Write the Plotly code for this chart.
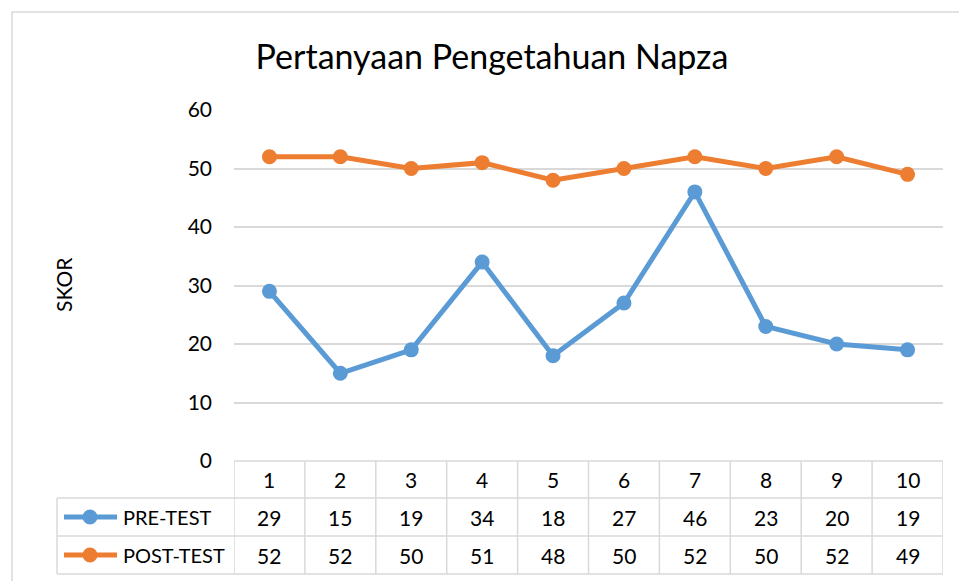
import plotly.graph_objects as go

categories = [1, 2, 3, 4, 5, 6, 7, 8, 9, 10]
pre_test = [29, 15, 19, 34, 18, 27, 46, 23, 20, 19]
post_test = [52, 52, 50, 51, 48, 50, 52, 50, 52, 49]
series_names = ["PRE-TEST", "POST-TEST"]
title_text = "Pertanyaan Pengetahuan Napza"
y_title = "SKOR"
y_ticks = [0, 10, 20, 30, 40, 50, 60]

BLUE = "#5B9BD5"
ORANGE = "#ED7D31"
GRID = "#d9d9d9"
FONT = "Lato"

W, H = 959, 581
L, R, T, B = 234, 16, 110, 120
pw = W - L - R
ph = H - T - B


def px_x(p):
    return (p - L) / pw


def px_y(p):
    return (H - B - p) / ph


fig = go.Figure()
for name, vals, col in [(series_names[0], pre_test, BLUE), (series_names[1], post_test, ORANGE)]:
    fig.add_trace(go.Scatter(
        x=categories, y=vals, name=name, mode="lines+markers",
        line=dict(color=col, width=5),
        marker=dict(color=col, size=15),
        cliponaxis=False,
    ))

shapes = []
line_style = dict(color=GRID, width=1.5)
# outer chart border
shapes.append(dict(type="rect", xref="paper", yref="paper",
                   x0=px_x(12), x1=px_x(990), y0=px_y(12), y1=px_y(620),
                   line=dict(color=GRID, width=1.5), layer="below"))
# table rows
row_lines = [461, 498, 536, 574]
shapes.append(dict(type="line", xref="paper", yref="paper",
                   x0=0, x1=1, y0=px_y(461), y1=px_y(461), line=line_style))
for ry in row_lines[1:]:
    shapes.append(dict(type="line", xref="paper", yref="paper",
                       x0=px_x(57), x1=1, y0=px_y(ry), y1=px_y(ry), line=line_style))
# vertical table lines
for i in range(len(categories) + 1):
    xv = categories[0] - 0.5 + i
    shapes.append(dict(type="line", xref="x", yref="paper",
                       x0=xv, x1=xv, y0=px_y(461), y1=px_y(574), line=line_style))
shapes.append(dict(type="line", xref="paper", yref="paper",
                   x0=px_x(57), x1=px_x(57), y0=px_y(498), y1=px_y(574), line=line_style))

annotations = []
row_centers = [479.5, 517, 555]
tfont = dict(family=FONT, size=21, color="#000")
# header row
for c in categories:
    annotations.append(dict(x=c, y=px_y(row_centers[0]), xref="x", yref="paper",
                            xanchor="center", yanchor="middle",
                            text=str(c), showarrow=False, font=tfont))
for name, vals, col, cy in [(series_names[0], pre_test, BLUE, row_centers[1]),
                            (series_names[1], post_test, ORANGE, row_centers[2])]:
    for c, v in zip(categories, vals):
        annotations.append(dict(x=c, y=px_y(cy), xref="x", yref="paper",
                                xanchor="center", yanchor="middle",
                                text=str(v), showarrow=False, font=tfont))
    annotations.append(dict(x=px_x(121), y=px_y(cy), xref="paper", yref="paper",
                            xanchor="left", yanchor="middle", text=name, showarrow=False,
                            font=dict(family=FONT, size=20, color="#000")))
    # legend key
    shapes.append(dict(type="line", xref="paper", yref="paper",
                       x0=px_x(64), x1=px_x(117), y0=px_y(cy), y1=px_y(cy),
                       line=dict(color=col, width=5)))
    shapes.append(dict(type="circle", xref="paper", yref="paper",
                       x0=px_x(90 - 7.5), x1=px_x(90 + 7.5),
                       y0=px_y(cy + 7.5), y1=px_y(cy - 7.5),
                       fillcolor=col, line=dict(color=col, width=0)))

annotations.append(dict(x=px_x(63), y=px_y(285), xref="paper", yref="paper",
                        xanchor="center", yanchor="middle",
                        text=y_title, textangle=-90, showarrow=False, font=tfont))

fig.update_layout(
    width=W, height=H,
    margin=dict(l=L, r=R, t=T, b=B),
    paper_bgcolor="white", plot_bgcolor="white",
    showlegend=False,
    title=dict(text=title_text, x=492 / W, xanchor="center",
               y=1 - 57 / H, yanchor="middle",
               font=dict(family=FONT, size=34, color="#000")),
    xaxis=dict(range=[0.5, 10.5], showticklabels=False, showgrid=False,
               zeroline=False, showline=False, tickvals=categories),
    yaxis=dict(range=[0, 60], tickvals=y_ticks, showgrid=True, gridcolor=GRID,
               gridwidth=1.5, zeroline=False, showline=False,
               tickfont=tfont, ticklabelstandoff=21),
    shapes=shapes,
    annotations=annotations,
)

fig.write_html("out.html", config={"displayModeBar": False},
               post_script="document.body.style.margin='0';")
